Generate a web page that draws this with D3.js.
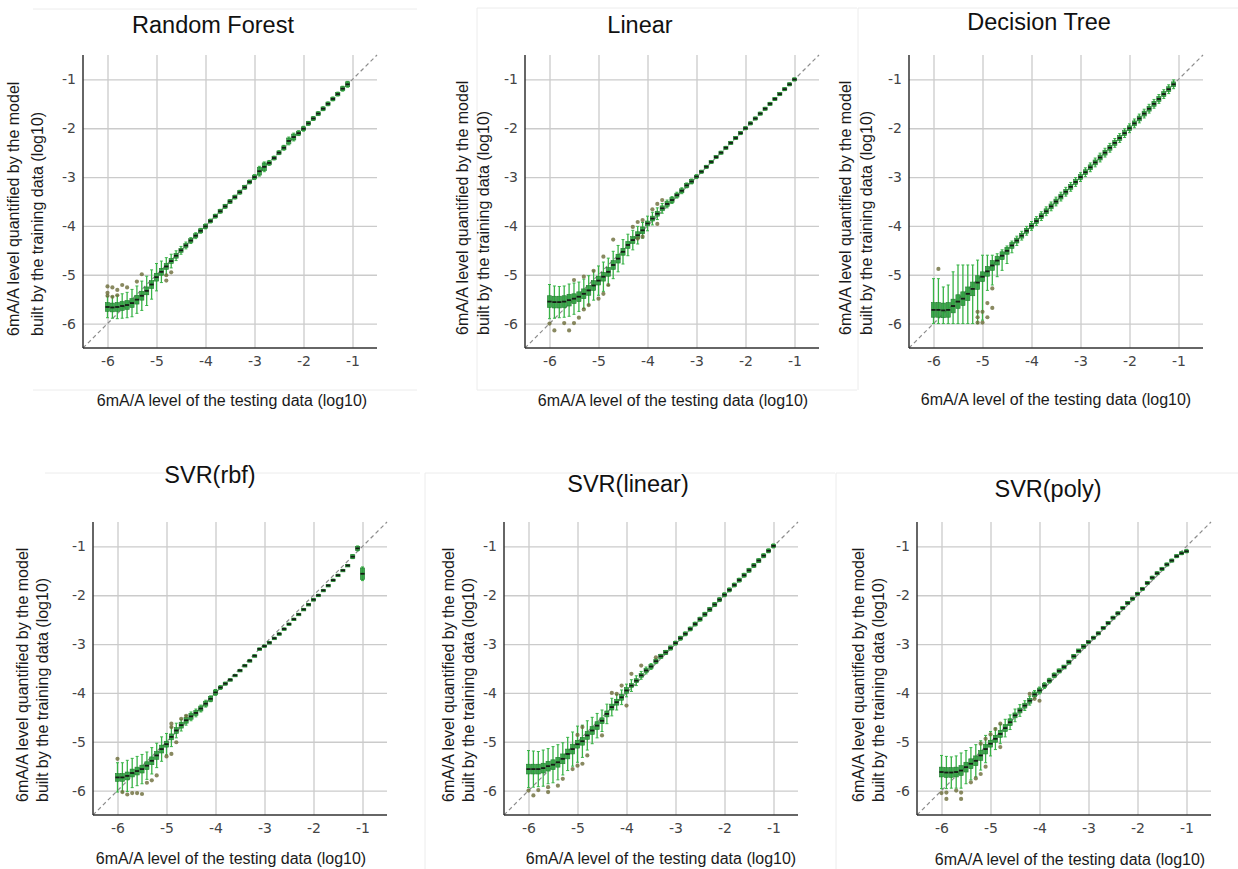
<!DOCTYPE html>
<html>
<head>
<meta charset="utf-8">
<script src="https://cdn.jsdelivr.net/npm/d3@7"></script>
<style>
  body { margin: 0; background: #fff; }
  svg { display: block; }
</style>
</head>
<body>
<script>
"use strict";

// ---- data: 6mA/A level of the testing data (log10), one box per level ----
const xLevels = [
	-6.0, -5.9, -5.8, -5.7, -5.6, -5.5, -5.4, -5.3, -5.2, -5.1,
	-5.0, -4.9, -4.8, -4.7, -4.6, -4.5, -4.4, -4.3, -4.2, -4.1,
	-4.0, -3.9, -3.8, -3.7, -3.6, -3.5, -3.4, -3.3, -3.2, -3.1,
	-3.0, -2.9, -2.8, -2.7, -2.6, -2.5, -2.4, -2.3, -2.2, -2.1,
	-2.0, -1.9, -1.8, -1.7, -1.6, -1.5, -1.4, -1.3, -1.2, -1.1,
	-1.0
];
const tickValues = [-6, -5, -4, -3, -2, -1];

// Random Forest
const rfMed = [
	-5.66, -5.67, -5.66, -5.64, -5.62, -5.58, -5.51, -5.43, -5.33, -5.20,
	-5.05, -4.94, -4.83, -4.72, -4.61, -4.50, -4.40, -4.30, -4.20, -4.10,
	-4.01, -3.90, -3.80, -3.70, -3.60, -3.50, -3.41, -3.31, -3.21, -3.10,
	-3.00, -2.88, -2.79, -2.71, -2.61, -2.50, -2.40, -2.26, -2.18, -2.10,
	-2.01, -1.90, -1.80, -1.70, -1.60, -1.50, -1.40, -1.30, -1.19, -1.10,
	null
];
const rfBox = [
	0.09, 0.09, 0.09, 0.09, 0.09, 0.09, 0.09, 0.09, 0.08, 0.08,
	0.08, 0.07, 0.06, 0.05, 0.05, 0.04, 0.04, 0.04, 0.04, 0.04,
	0.04, 0.035, 0.035, 0.035, 0.035, 0.035, 0.035, 0.035, 0.035, 0.035,
	0.04, 0.08, 0.08, 0.04, 0.035, 0.035, 0.04, 0.06, 0.06, 0.04,
	0.04, 0.035, 0.035, 0.035, 0.035, 0.035, 0.035, 0.035, 0.04, 0.05,
	0
];
const rfWhisk = [
	0.22, 0.22, 0.24, 0.25, 0.26, 0.28, 0.28, 0.30, 0.30, 0.30,
	0.28, 0.22, 0.18, 0.14, 0.10, 0.08, 0.07, 0.06, 0.06, 0.05,
	0.05, 0.04, 0.04, 0.04, 0.04, 0.04, 0.04, 0.04, 0.04, 0.04,
	0.05, 0.10, 0.10, 0.05, 0.04, 0.04, 0.05, 0.08, 0.08, 0.05,
	0.05, 0.04, 0.04, 0.04, 0.04, 0.04, 0.04, 0.04, 0.05, 0.06,
	0
];
const rfOut = [
	[-6.0, -5.24], [-5.9, -5.26], [-6.0, -5.37], [-6.0, -5.43], [-5.9, -5.45],
	[-5.8, -5.31], [-5.8, -5.42], [-5.7, -5.21], [-5.6, -5.26], [-5.4, -5.14],
	[-5.3, -4.99], [-4.8, -5.12], [-4.8, -5.01], [-4.7, -4.95]
];

// Linear
const linMed = [
	-5.55, -5.56, -5.56, -5.55, -5.52, -5.49, -5.45, -5.39, -5.32, -5.22,
	-5.12, -5.04, -4.94, -4.80, -4.67, -4.53, -4.39, -4.29, -4.19, -4.09,
	-3.95, -3.85, -3.75, -3.64, -3.55, -3.47, -3.37, -3.28, -3.17, -3.09,
	-2.99, -2.89, -2.79, -2.69, -2.59, -2.50, -2.40, -2.30, -2.20, -2.10,
	-2.00, -1.90, -1.80, -1.70, -1.60, -1.50, -1.40, -1.30, -1.20, -1.10,
	-1.00
];
const linBox = [
	0.12, 0.12, 0.12, 0.12, 0.12, 0.10, 0.10, 0.10, 0.10, 0.10,
	0.09, 0.09, 0.09, 0.09, 0.09, 0.07, 0.07, 0.07, 0.07, 0.07,
	0.05, 0.05, 0.05, 0.05, 0.05, 0.05, 0.04, 0.04, 0.04, 0.04,
	0.03, 0.03, 0.03, 0.03, 0.03, 0.03, 0.03, 0.03, 0.03, 0.03,
	0.03, 0.03, 0.03, 0.03, 0.03, 0.03, 0.03, 0.03, 0.03, 0.03,
	0.03
];
const linWhisk = [
	0.35, 0.33, 0.32, 0.32, 0.33, 0.32, 0.30, 0.30, 0.30, 0.30,
	0.30, 0.30, 0.28, 0.28, 0.27, 0.25, 0.22, 0.20, 0.18, 0.16,
	0.15, 0.13, 0.12, 0.10, 0.08, 0.07, 0.06, 0.06, 0.05, 0.05,
	0.04, 0.03, 0.03, 0.03, 0.03, 0.03, 0.03, 0.03, 0.03, 0.03,
	0.03, 0.03, 0.03, 0.03, 0.03, 0.03, 0.03, 0.03, 0.03, 0.03,
	0.03
];
const linOut = [
	[-6.0, -6.00], [-5.9, -6.14], [-5.7, -5.99], [-5.6, -6.14], [-5.5, -5.99],
	[-5.4, -5.88], [-5.3, -5.71], [-5.2, -5.62], [-5.0, -5.49], [-4.9, -5.39],
	[-5.5, -5.11], [-5.3, -5.04], [-5.1, -4.92], [-4.9, -4.63], [-4.7, -4.28],
	[-4.8, -5.21], [-4.3, -4.02], [-4.2, -3.92], [-4.1, -3.88], [-4.2, -4.26],
	[-4.1, -4.22], [-3.9, -3.66], [-3.8, -3.55], [-3.8, -3.96], [-3.7, -3.47]
];

// Decision Tree
const dtMed = [
	-5.72, -5.72, -5.73, -5.72, -5.64, -5.55, -5.49, -5.39, -5.29, -5.16,
	-5.04, -4.93, -4.81, -4.71, -4.61, -4.51, -4.40, -4.30, -4.20, -4.10,
	-4.00, -3.90, -3.80, -3.70, -3.60, -3.50, -3.40, -3.30, -3.20, -3.10,
	-3.00, -2.90, -2.80, -2.70, -2.60, -2.50, -2.40, -2.30, -2.20, -2.10,
	-2.00, -1.90, -1.80, -1.70, -1.60, -1.50, -1.40, -1.30, -1.20, -1.10,
	null
];
const dtBox = [
	0.15, 0.15, 0.15, 0.15, 0.14, 0.14, 0.14, 0.14, 0.14, 0.14,
	0.10, 0.10, 0.10, 0.09, 0.08, 0.07, 0.06, 0.05, 0.05, 0.05,
	0.05, 0.05, 0.05, 0.05, 0.05, 0.05, 0.05, 0.05, 0.05, 0.05,
	0.05, 0.05, 0.05, 0.05, 0.05, 0.05, 0.05, 0.05, 0.05, 0.05,
	0.05, 0.05, 0.05, 0.05, 0.05, 0.05, 0.05, 0.05, 0.05, 0.05,
	0
];
const dtLo = [
	0.28, 0.28, 0.27, 0.28, 0.36, 0.45, 0.51, 0.61, 0.71, 0.84,
	0.89, 0.39, 0.40, 0.33, 0.30, 0.26, 0.15, 0.10, 0.09, 0.09,
	0.09, 0.09, 0.09, 0.09, 0.09, 0.09, 0.09, 0.09, 0.09, 0.09,
	0.09, 0.09, 0.09, 0.09, 0.09, 0.09, 0.09, 0.09, 0.09, 0.09,
	0.09, 0.09, 0.09, 0.09, 0.09, 0.09, 0.09, 0.09, 0.09, 0.09,
	0
];
const dtHi = [
	0.64, 0.64, 0.48, 0.51, 0.70, 0.75, 0.69, 0.59, 0.49, 0.46,
	0.44, 0.33, 0.21, 0.14, 0.12, 0.10, 0.09, 0.09, 0.09, 0.09,
	0.09, 0.09, 0.09, 0.09, 0.09, 0.09, 0.09, 0.09, 0.09, 0.09,
	0.09, 0.09, 0.09, 0.09, 0.09, 0.09, 0.09, 0.09, 0.09, 0.09,
	0.09, 0.09, 0.09, 0.09, 0.09, 0.09, 0.09, 0.09, 0.09, 0.09,
	0
];
const dtOut = [
	[-5.9, -4.88], [-5.1, -5.76], [-5.0, -5.76], [-5.1, -5.87], [-4.9, -5.87],
	[-5.1, -5.98], [-5.0, -5.98], [-4.9, -5.58], [-4.8, -5.68], [-4.8, -5.28]
];

// SVR(rbf)
const rbfMed = [
	-5.73, -5.73, -5.70, -5.64, -5.60, -5.56, -5.49, -5.39, -5.28, -5.15,
	-5.05, -4.90, -4.77, -4.66, -4.56, -4.48, -4.41, -4.32, -4.22, -4.12,
	-3.99, -3.89, -3.81, -3.73, -3.64, -3.54, -3.44, -3.34, -3.24, -3.10,
	-3.04, -2.97, -2.88, -2.79, -2.69, -2.59, -2.49, -2.39, -2.29, -2.19,
	-2.09, -2.00, -1.90, -1.80, -1.69, -1.59, -1.49, -1.39, -1.21, -1.04,
	-1.56
];
const rbfBox = [
	0.08, 0.08, 0.08, 0.08, 0.08, 0.08, 0.08, 0.08, 0.08, 0.08,
	0.06, 0.06, 0.06, 0.06, 0.06, 0.06, 0.05, 0.05, 0.05, 0.05,
	0.05, 0.03, 0.03, 0.02, 0.02, 0.02, 0.02, 0.02, 0.02, 0.02,
	0.02, 0.02, 0.02, 0.02, 0.02, 0.02, 0.02, 0.02, 0.02, 0.02,
	0.02, 0.02, 0.02, 0.02, 0.02, 0.02, 0.02, 0.02, 0.04, 0.04,
	0.12
];
const rbfWhisk = [
	0.30, 0.30, 0.32, 0.30, 0.30, 0.30, 0.28, 0.27, 0.25, 0.25,
	0.22, 0.20, 0.15, 0.12, 0.10, 0.09, 0.08, 0.07, 0.07, 0.06,
	0.06, 0.04, 0.03, 0.02, 0.02, 0.02, 0.02, 0.02, 0.02, 0.02,
	0.02, 0.02, 0.02, 0.02, 0.02, 0.02, 0.02, 0.02, 0.02, 0.02,
	0.02, 0.02, 0.02, 0.02, 0.02, 0.02, 0.02, 0.02, 0.04, 0.05,
	0.14
];
const rbfOut = [
	[-6.0, -5.35], [-5.9, -6.03], [-5.8, -6.08], [-5.7, -6.05], [-5.6, -6.05],
	[-5.5, -6.07], [-5.4, -5.84], [-5.3, -5.79], [-5.2, -5.69], [-5.0, -5.30],
	[-4.9, -5.25], [-4.9, -4.63], [-4.9, -4.70], [-4.8, -5.01], [-4.7, -4.53],
	[-4.6, -4.47]
];

// SVR(linear)
const svlMed = [
	-5.56, -5.56, -5.56, -5.54, -5.50, -5.47, -5.42, -5.35, -5.25, -5.15,
	-5.05, -4.99, -4.87, -4.77, -4.67, -4.57, -4.43, -4.29, -4.19, -4.09,
	-3.95, -3.85, -3.75, -3.64, -3.54, -3.46, -3.35, -3.25, -3.17, -3.08,
	-2.98, -2.88, -2.79, -2.69, -2.59, -2.49, -2.39, -2.29, -2.19, -2.09,
	-1.99, -1.89, -1.79, -1.69, -1.59, -1.49, -1.39, -1.29, -1.19, -1.09,
	-0.99
];
const svlBox = [
	0.10, 0.10, 0.10, 0.10, 0.10, 0.10, 0.10, 0.10, 0.10, 0.10,
	0.08, 0.08, 0.08, 0.08, 0.08, 0.06, 0.06, 0.06, 0.06, 0.06,
	0.06, 0.04, 0.04, 0.04, 0.04, 0.04, 0.04, 0.04, 0.04, 0.04,
	0.035, 0.035, 0.035, 0.035, 0.035, 0.035, 0.035, 0.035, 0.035, 0.035,
	0.035, 0.035, 0.035, 0.035, 0.035, 0.035, 0.035, 0.035, 0.035, 0.035,
	0.035
];
const svlWhisk = [
	0.38, 0.37, 0.36, 0.37, 0.36, 0.37, 0.36, 0.33, 0.34, 0.35,
	0.37, 0.33, 0.30, 0.27, 0.25, 0.22, 0.20, 0.18, 0.16, 0.15,
	0.13, 0.12, 0.10, 0.08, 0.07, 0.06, 0.05, 0.04, 0.04, 0.04,
	0.04, 0.04, 0.04, 0.04, 0.04, 0.04, 0.04, 0.04, 0.04, 0.04,
	0.04, 0.04, 0.04, 0.04, 0.04, 0.04, 0.04, 0.04, 0.04, 0.04,
	0.04
];
const svlOut = [
	[-6.0, -6.00], [-5.9, -6.10], [-5.8, -5.99], [-5.6, -6.03], [-5.6, -5.93],
	[-5.4, -5.90], [-5.3, -5.76], [-5.1, -5.56], [-5.0, -5.49], [-4.9, -5.45],
	[-4.8, -5.28], [-5.0, -4.86], [-4.9, -4.70], [-4.5, -4.87], [-4.3, -4.00],
	[-4.2, -4.02], [-4.1, -3.85], [-4.0, -4.26], [-3.9, -3.61], [-3.7, -3.44],
	[-3.4, -3.27]
];

// SVR(poly)
const polyMed = [
	-5.62, -5.63, -5.63, -5.62, -5.59, -5.52, -5.45, -5.39, -5.28, -5.15,
	-5.04, -4.94, -4.84, -4.72, -4.60, -4.46, -4.36, -4.26, -4.16, -4.03,
	-3.95, -3.85, -3.75, -3.64, -3.55, -3.47, -3.37, -3.25, -3.14, -3.05,
	-2.96, -2.87, -2.78, -2.67, -2.57, -2.46, -2.37, -2.26, -2.16, -2.07,
	-1.97, -1.87, -1.75, -1.64, -1.55, -1.46, -1.37, -1.29, -1.20, -1.14,
	-1.10
];
const polyBox = [
	0.10, 0.10, 0.10, 0.10, 0.10, 0.10, 0.10, 0.10, 0.10, 0.10,
	0.07, 0.07, 0.07, 0.07, 0.07, 0.05, 0.05, 0.05, 0.05, 0.05,
	0.05, 0.04, 0.04, 0.04, 0.04, 0.04, 0.04, 0.04, 0.04, 0.04,
	0.03, 0.03, 0.03, 0.03, 0.03, 0.03, 0.03, 0.03, 0.03, 0.03,
	0.03, 0.03, 0.03, 0.03, 0.03, 0.03, 0.03, 0.03, 0.03, 0.03,
	0.03
];
const polyWhisk = [
	0.34, 0.33, 0.32, 0.33, 0.36, 0.34, 0.33, 0.33, 0.30, 0.28,
	0.25, 0.22, 0.20, 0.18, 0.15, 0.13, 0.12, 0.10, 0.09, 0.08,
	0.07, 0.06, 0.05, 0.05, 0.04, 0.03, 0.03, 0.03, 0.03, 0.03,
	0.03, 0.03, 0.03, 0.03, 0.03, 0.03, 0.03, 0.03, 0.03, 0.03,
	0.03, 0.03, 0.03, 0.03, 0.03, 0.03, 0.03, 0.03, 0.03, 0.03,
	0.03
];
const polyOut = [
	[-6.0, -6.05], [-5.9, -6.04], [-5.9, -6.17], [-5.7, -6.00], [-5.6, -6.17],
	[-5.6, -6.04], [-5.4, -5.83], [-5.3, -5.75], [-5.2, -5.66], [-5.1, -5.51],
	[-5.2, -5.04], [-5.1, -4.94], [-5.0, -4.85], [-4.9, -4.74], [-4.8, -4.63],
	[-4.8, -5.11], [-4.2, -4.02], [-4.1, -4.12], [-4.0, -4.16]
];

const yLabelLines = ["6mA/A level quantified by the model", "built by the training data (log10)"];
const xLabelText = "6mA/A level of the testing data (log10)";

// ---- layout (pasted sub-figures, each at its own spot) ----
const panels = [
	{ title: "Random Forest", med: rfMed, box: rfBox, lo: rfWhisk, hi: rfWhisk, out: rfOut,
		left: 83, top: 55, titleX: 213, titleY: 33, xlabX: 232, xlabY: 406, ylabX: [19, 43], ylabY: 336 },
	{ title: "Linear", med: linMed, box: linBox, lo: linWhisk, hi: linWhisk, out: linOut,
		left: 525, top: 55, titleX: 640, titleY: 33, xlabX: 673, xlabY: 406, ylabX: [468, 489], ylabY: 335 },
	{ title: "Decision Tree", med: dtMed, box: dtBox, lo: dtLo, hi: dtHi, out: dtOut,
		left: 909, top: 55, titleX: 1039, titleY: 30, xlabX: 1056, xlabY: 405, ylabX: [851, 872], ylabY: 335 },
	{ title: "SVR(rbf)", med: rbfMed, box: rbfBox, lo: rbfWhisk, hi: rbfWhisk, out: rbfOut,
		left: 93, top: 522, titleX: 210, titleY: 483, xlabX: 231, xlabY: 864, ylabX: [28, 48], ylabY: 802 },
	{ title: "SVR(linear)", med: svlMed, box: svlBox, lo: svlWhisk, hi: svlWhisk, out: svlOut,
		left: 504, top: 522, titleX: 628, titleY: 492, xlabX: 661, xlabY: 864, ylabX: [454, 474], ylabY: 802 },
	{ title: "SVR(poly)", med: polyMed, box: polyBox, lo: polyWhisk, hi: polyWhisk, out: polyOut,
		left: 917, top: 522, titleX: 1048, titleY: 497, xlabX: 1070, xlabY: 865, ylabX: [864, 884], ylabY: 802 }
];
// faint edges of the pasted screenshots
const frameLines = [
	[33, 9, 417, 9], [33, 390, 417, 390],
	[477, 8, 857, 8], [477, 8, 477, 390], [477, 390, 857, 390],
	[858, 8, 1238, 8], [858, 8, 858, 390],
	[45, 473, 420, 473], [425, 473, 835, 473], [425, 473, 425, 869],
	[836, 473, 1238, 473], [836, 473, 836, 869]
];

const W = 294, H = 293;
const boxW = 4.2, capW = 3;
const font = "'Liberation Sans', Arial, sans-serif";
const tickFont = "'DejaVu Sans', sans-serif";

const svg = d3.select("body").append("svg")
	.attr("width", 1238)
	.attr("height", 869);

svg.append("g").selectAll("line")
	.data(frameLines)
	.join("line")
	.attr("x1", d => d[0]).attr("y1", d => d[1])
	.attr("x2", d => d[2]).attr("y2", d => d[3])
	.attr("stroke", "#ececec")
	.attr("stroke-width", 1);

panels.forEach(p => {
	const x = d3.scaleLinear().domain([-6.5, -0.5]).range([0, W]);
	const y = d3.scaleLinear().domain([-6.5, -0.5]).range([H, 0]);
	const g = svg.append("g").attr("transform", `translate(${p.left},${p.top})`);

	// gridlines + tick labels
	const gx = g.append("g")
		.attr("transform", `translate(0,${H})`)
		.call(d3.axisBottom(x).tickValues(tickValues).tickSize(-H).tickPadding(8).tickFormat(d => String(d)));
	const gy = g.append("g")
		.call(d3.axisLeft(y).tickValues(tickValues).tickSize(-W).tickPadding(7).tickFormat(d => String(d)));
	[gx, gy].forEach(a => {
		a.select(".domain").remove();
		a.selectAll(".tick line").attr("stroke", "#cbcbcb").attr("stroke-width", 1.3);
		a.selectAll(".tick text")
			.attr("fill", "#444")
			.style("font-family", tickFont)
			.style("font-size", "14px");
	});

	// identity line
	g.append("line")
		.attr("x1", x(-6.5)).attr("y1", y(-6.5))
		.attr("x2", x(-0.5)).attr("y2", y(-0.5))
		.attr("stroke", "#8c8c8c")
		.attr("stroke-width", 1.2)
		.attr("stroke-dasharray", "4,3");

	// boxes
	const stats = xLevels.map((lv, i) => p.med[i] == null ? null : {
		x: lv,
		med: p.med[i],
		q1: p.med[i] - p.box[i],
		q3: p.med[i] + p.box[i],
		lo: p.med[i] - p.lo[i],
		hi: p.med[i] + p.hi[i]
	}).filter(Boolean);

	const b = g.append("g").selectAll("g")
		.data(stats)
		.join("g")
		.attr("transform", d => `translate(${x(d.x)},0)`);
	b.append("line")
		.attr("y1", d => y(d.lo)).attr("y2", d => y(d.hi))
		.attr("stroke", "#38b346").attr("stroke-width", 1.3);
	b.append("line")
		.attr("x1", -capW / 2).attr("x2", capW / 2)
		.attr("y1", d => y(d.lo)).attr("y2", d => y(d.lo))
		.attr("stroke", "#38b346").attr("stroke-width", 1);
	b.append("line")
		.attr("x1", -capW / 2).attr("x2", capW / 2)
		.attr("y1", d => y(d.hi)).attr("y2", d => y(d.hi))
		.attr("stroke", "#38b346").attr("stroke-width", 1);
	b.append("rect")
		.attr("x", -boxW / 2)
		.attr("width", boxW)
		.attr("y", d => y(d.q3))
		.attr("height", d => Math.max(2.5, y(d.q1) - y(d.q3)))
		.attr("fill", "#2e9e3e")
		.attr("fill-opacity", 0.9)
		.attr("stroke", "#1f7d2c")
		.attr("stroke-width", 0.6);
	b.append("line")
		.attr("x1", -boxW / 2).attr("x2", boxW / 2)
		.attr("y1", d => y(d.med)).attr("y2", d => y(d.med))
		.attr("stroke", "#151a15").attr("stroke-width", 1.8);

	// outliers
	g.append("g").selectAll("circle")
		.data(p.out)
		.join("circle")
		.attr("cx", d => x(d[0]))
		.attr("cy", d => y(d[1]))
		.attr("r", 2.1)
		.attr("fill", "#6b6b38")
		.attr("fill-opacity", 0.8);

	// spines
	g.append("line")
		.attr("x1", 0).attr("x2", 0).attr("y1", 0).attr("y2", H)
		.attr("stroke", "#333").attr("stroke-width", 1.5);
	g.append("line")
		.attr("x1", 0).attr("x2", W).attr("y1", H).attr("y2", H)
		.attr("stroke", "#333").attr("stroke-width", 1.5);

	// title and axis labels
	svg.append("text")
		.attr("x", p.titleX).attr("y", p.titleY)
		.attr("text-anchor", "middle")
		.style("font-family", font)
		.style("font-size", "23.5px")
		.attr("fill", "#111")
		.text(p.title);
	svg.append("text")
		.attr("x", p.xlabX).attr("y", p.xlabY)
		.attr("text-anchor", "middle")
		.style("font-family", font)
		.style("font-size", "16px")
		.attr("fill", "#1a1a1a")
		.text(xLabelText);
	yLabelLines.forEach((line, k) => {
		svg.append("text")
			.attr("transform", `translate(${p.ylabX[k]},${p.ylabY}) rotate(-90)`)
			.attr("text-anchor", "start")
			.style("font-family", font)
			.style("font-size", "16px")
			.attr("fill", "#1a1a1a")
			.text(line);
	});
});
</script>
</body>
</html>
